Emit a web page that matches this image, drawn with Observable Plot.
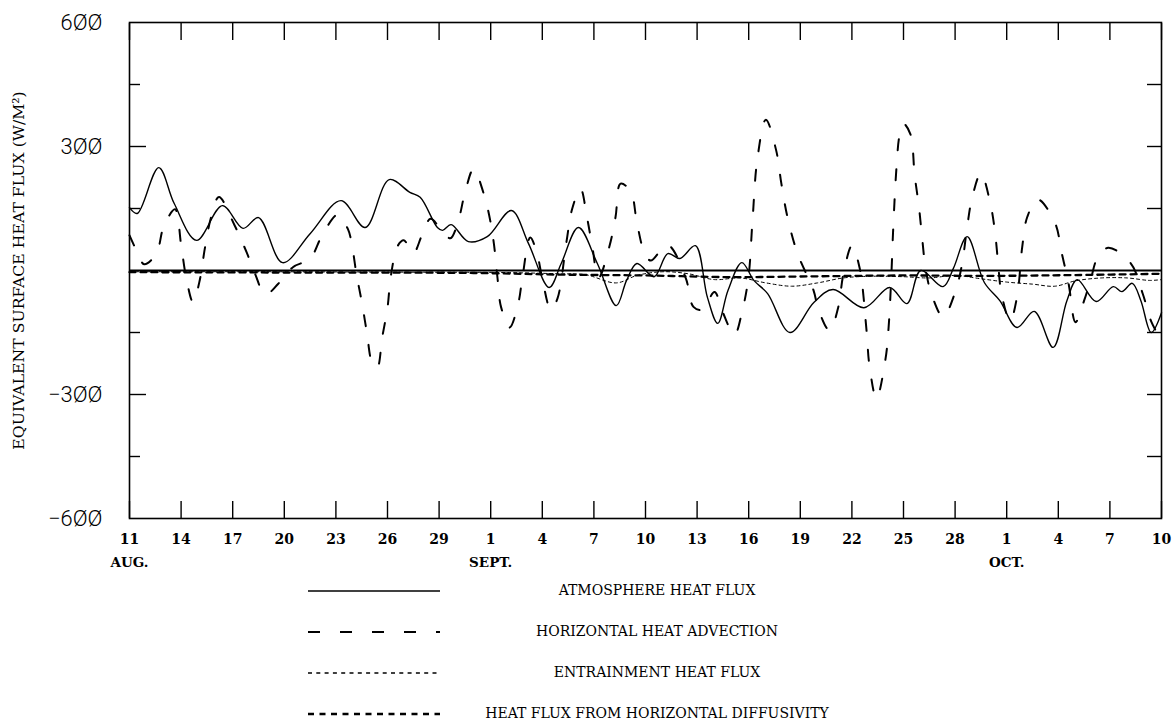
<!DOCTYPE html>
<html><head><meta charset="utf-8">
<script src="https://cdn.jsdelivr.net/npm/d3@7"></script>
<script src="https://cdn.jsdelivr.net/npm/@observablehq/plot@0.6"></script>
<style>
body{margin:0;background:#fff;}
#wrap{position:relative;width:1172px;height:723px;overflow:hidden;}
#legend{position:absolute;left:0;top:571px;width:1172px;}
.row{position:relative;height:41px;}
.row svg{position:absolute;left:306px;top:15px;}
.row div{position:absolute;left:407px;width:500px;top:11px;text-align:center;font-family:"DejaVu Serif",serif;font-size:14px;color:#000;line-height:17px;}
</style></head><body><div id="wrap"><div id="chart"></div><div id="legend"></div></div>
<script>
// ---- data (x = days after Aug 11, y = W/m^2) ----
const atmDay  = [0,0.45,1.7,2.6,3.9,5.4,6.6,7.5,8.9,10.5,12.3,13.7,15.1,16.3,16.9,17.9,18.2,18.7,19.7,20.8,22.2,23.2,24.4,25.1,26.1,27.2,28.3,28.9,29.5,30.5,31.3,32.0,32.9,33.6,34.2,34.8,35.6,36.3,37.1,38.4,39.8,40.9,42.7,44.2,45.2,46.0,47.3,47.9,48.7,49.7,50.6,51.6,52.6,53.7,54.5,55.1,56.2,57.2,57.7,58.3,58.8,59.4,60];
const atmFlux = [152,138,249,162,73,157,102,128,19,89,169,104,220,189,177,104,97,111,70,82,145,65,-41,17,104,17,-85,-24,17,-15,41,29,60,-65,-128,-48,19,-24,-56,-150,-77,-46,-90,-41,-80,0,-39,5,82,-29,-73,-138,-99,-186,-73,-22,-75,-39,-51,-31,-73,-150,-102];

const advDay  = [0,0.5,0.85,1.55,2.0,2.65,3.0,3.3,3.7,4.05,4.4,4.75,5.2,6.1,6.8,7.3,7.9,8.65,9.5,10.5,11.2,12.1,12.7,12.9,13.2,13.5,13.8,14.1,14.4,14.7,15.0,15.2,15.6,15.95,16.5,17.0,17.5,18.1,18.65,19.1,19.5,20.0,20.6,21.0,21.2,21.4,21.6,22.1,22.6,22.85,23.3,23.7,24.0,24.5,24.88,25.4,25.73,26.22,26.6,26.9,27.27,27.9,28.26,28.55,29.13,29.5,29.9,30.3,31.28,32.33,32.79,33.31,34.01,34.48,35.17,35.64,35.99,36.22,36.51,37.0,37.6,37.9,38.26,38.85,39.77,40.06,40.7,41.2,41.5,42.0,42.44,42.85,43.02,43.43,43.95,44.13,44.3,44.39,44.59,44.77,45.0,45.4,45.65,45.9,46.1,46.3,46.65,47.3,48.0,48.4,48.7,49.0,49.5,50.0,50.3,50.5,50.7,51.2,51.6,51.9,52.2,52.8,53.8,54.2,54.6,55.0,55.5,55.9,56.25,56.9,58.2,58.9,59.4,60];
const advFlux = [85,40,15,40,108,148,62,-18,-77,-30,58,130,178,110,45,-8,-58,-32,8,29,85,135,100,70,-10,-75,-150,-222,-235,-160,-90,-12,60,73,42,85,125,100,78,118,187,245,185,115,60,-20,-88,-138,-80,-15,80,40,-20,-95,-68,68,148,198,128,60,-18,58,130,210,192,116,48,24,62,-17,-88,-95,-52,-100,-155,-95,-15,120,272,365,290,210,128,40,-48,-95,-145,-90,-10,60,8,-145,-230,-310,-215,-140,-5,90,248,327,355,330,230,153,72,0,-60,-112,-53,15,105,178,235,172,100,18,-57,-122,-64,56,130,172,116,42,-32,-125,-73,-20,28,55,18,-55,-123,-170];

const entDay  = [0,8,16,22,25,26.5,28.3,29.5,31,32.5,34,35.5,37,38.5,40,41.5,43,45,46.5,48,49.5,51,52.5,53.8,55,56.5,58,59.3,60];
const entFlux = [-3,-3,-4,-5,-8,-10,-30,-12,-3,-8,-22,-18,-30,-38,-30,-18,-14,-15,-18,-12,-20,-28,-33,-38,-25,-18,-18,-24,-22];

const difDay  = [0,10,20,25,30,35,40,45,50,55,60];
const difFlux = [-4,-5,-6,-10,-12,-16,-14,-12,-13,-11,-8];

const xTickDays   = [0,3,6,9,12,15,18,21,24,27,30,33,36,39,42,45,48,51,54,57,60];
const xTickLabels = ["11","14","17","20","23","26","29","1","4","7","10","13","16","19","22","25","28","1","4","7","10"];
const monthDays   = [0,21,51];
const monthNames  = ["AUG.","SEPT.","OCT."];
const yLabelVals  = [-600,-300,300,600];
const yLabelText  = ["−6ØØ","−3ØØ","3ØØ","6ØØ"];
const yMajor = [-300,300];
const yMinor = [-450,-150,150,450];
const yRight = [-450,-300,-150,150,300,450];
const yTitle = "EQUIVALENT SURFACE HEAT FLUX (W/M²)";
const seriesNames = ["ATMOSPHERE HEAT FLUX","HORIZONTAL HEAT ADVECTION","ENTRAINMENT HEAT FLUX","HEAT FLUX FROM HORIZONTAL DIFFUSIVITY"];

const tbl = (xs, ys) => xs.map((d, i) => ({d, v: ys[i]}));
const atm = tbl(atmDay, atmFlux), adv = tbl(advDay, advFlux), ent = tbl(entDay, entFlux), dif = tbl(difDay, difFlux);

const serif = "DejaVu Serif";
const none = () => "";
const chart = Plot.plot({
  width: 1172, height: 570,
  marginLeft: 129, marginRight: 11, marginTop: 22, marginBottom: 52,
  x: {domain: [0, 60]},
  y: {domain: [-600, 600]},
  style: {background: "#fff", color: "#000"},
  marks: [
    Plot.ruleY([0], {strokeWidth: 2}),
    Plot.line(dif, {x: "d", y: "v", curve: "catmull-rom", strokeWidth: 2.3, strokeDasharray: "6,5"}),
    Plot.line(ent, {x: "d", y: "v", curve: "catmull-rom", strokeWidth: 1, strokeDasharray: "3,3"}),
    Plot.line(adv, {x: "d", y: "v", curve: "catmull-rom", strokeWidth: 2, strokeDasharray: "11,19"}),
    Plot.line(atm, {x: "d", y: "v", curve: "catmull-rom", strokeWidth: 1.4}),
    Plot.frame({strokeWidth: 1.6}),
    // inward ticks
    Plot.axisX({anchor: "bottom", ticks: xTickDays, tickSize: 17, dy: -17, tickFormat: none, label: null, strokeWidth: 1.4}),
    Plot.axisX({anchor: "top", ticks: xTickDays, tickSize: 17, dy: 17, tickFormat: none, label: null, strokeWidth: 1.4}),
    Plot.axisY({anchor: "left", ticks: yMajor, tickSize: 17, dx: 17, tickFormat: none, label: null, strokeWidth: 1.4}),
    Plot.axisY({anchor: "left", ticks: yMinor, tickSize: 11, dx: 11, tickFormat: none, label: null, strokeWidth: 1.4}),
    Plot.axisY({anchor: "right", ticks: yRight, tickSize: 15, dx: -15, tickFormat: none, label: null, strokeWidth: 1.4}),
    // labels
    Plot.axisX({anchor: "bottom", ticks: xTickDays, tickSize: 0, tickPadding: 16, tickFormat: d => xTickLabels[xTickDays.indexOf(d)], label: null, fontFamily: serif, fontSize: 14, fontWeight: "bold"}),
    Plot.axisY({anchor: "left", ticks: yLabelVals, tickSize: 0, tickPadding: 27, tickFormat: d => yLabelText[yLabelVals.indexOf(d)], label: null, fontFamily: "Roboto", fontWeight: 300, fontSize: 22}),
    Plot.text(monthDays, {x: d => d, text: (d, i) => monthNames[i], frameAnchor: "bottom", dy: 48, fontFamily: serif, fontSize: 13.5, fontWeight: "bold"}),
    Plot.text([yTitle], {text: d => d, frameAnchor: "left", textAnchor: "middle", dx: -111, rotate: -90, fontFamily: serif, fontSize: 15.7})
  ]
});
document.getElementById("chart").appendChild(chart);

// legend
const styles = [
  {w: 1.4, dash: null},
  {w: 2.2, dash: "12,20"},
  {w: 1.3, dash: "4,4.3"},
  {w: 2.6, dash: "6,5.5"}
];
const leg = document.getElementById("legend");
seriesNames.forEach((name, i) => {
  const row = document.createElement("div");
  row.className = "row";
  const s = styles[i];
  row.innerHTML = `<svg width="140" height="10"><line x1="2" x2="134" y1="5" y2="5" stroke="#000" stroke-width="${s.w}" ${s.dash ? `stroke-dasharray="${s.dash}"` : ""}/></svg><div>${name}</div>`;
  leg.appendChild(row);
});
</script></body></html>
